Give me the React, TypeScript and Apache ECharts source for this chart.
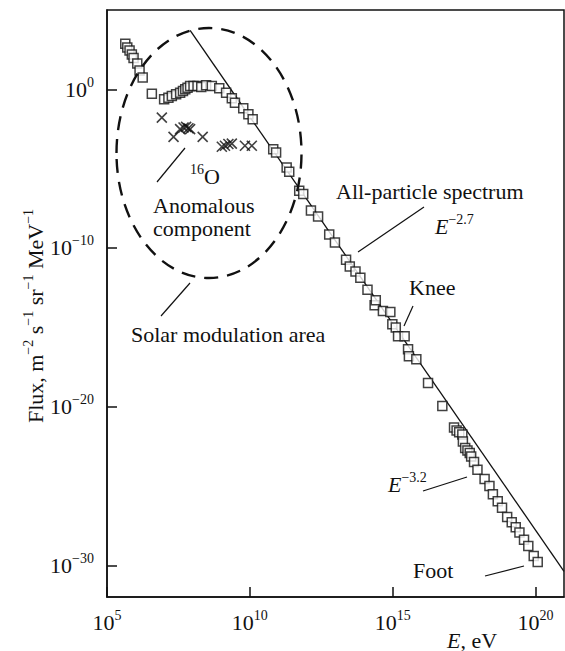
import React, { useEffect, useRef } from "react";
import * as echarts from "echarts";

const SERIF = "Liberation Serif";

// Measured flux (squares): log10(E / eV) and log10(flux / m^-2 s^-1 sr^-1 MeV^-1)
const spectrumLogE = [
  5.64, 5.71, 5.79, 5.87, 5.93, 6.06, 6.14, 6.25, 6.57, 7.0, 7.15, 7.27, 7.42,
  7.56, 7.66, 7.74, 7.82, 7.91, 8.03, 8.17, 8.3, 8.47, 8.67, 8.93, 9.17, 9.37,
  9.48, 9.77, 9.95, 10.1, 10.82, 10.92, 11.29, 11.38, 11.73, 11.87, 12.14,
  12.39, 12.78, 12.98, 13.37, 13.5, 13.7, 13.87, 14.12, 14.37, 14.41, 14.66,
  14.92, 14.99, 15.11, 15.19, 15.42, 15.54, 15.57, 15.83, 16.24, 16.74, 17.15,
  17.24, 17.33, 17.44, 17.46, 17.54, 17.62, 17.7, 17.75, 17.85, 17.97, 18.22,
  18.39, 18.51, 18.68, 18.83, 19.01, 19.17, 19.31, 19.44, 19.6, 19.75, 19.94,
  20.08,
];
const spectrumLogFlux = [
  2.88, 2.63, 2.44, 2.2, 1.97, 1.62, 1.18, 0.74, -0.28, -0.63, -0.53, -0.42,
  -0.31, -0.21, -0.11, 0.0, 0.1, 0.21, 0.21, 0.21, 0.14, 0.25, 0.21, 0.06,
  -0.21, -0.57, -0.84, -1.19, -1.57, -1.88, -3.77, -3.98, -4.92, -5.19, -6.39,
  -6.6, -7.64, -8.02, -9.15, -9.65, -10.74, -11.16, -11.48, -11.88, -12.63,
  -13.61, -13.3, -13.97, -14.03, -14.81, -15.01, -15.56, -15.56, -16.39,
  -16.82, -17.02, -18.51, -19.96, -21.31, -21.5, -21.62, -21.76, -22.2, -22.61,
  -22.76, -22.93, -23.14, -23.49, -23.98, -24.56, -25.0, -25.52, -25.97,
  -26.38, -26.95, -27.29, -27.61, -27.93, -28.39, -28.79, -29.42, -29.8,
];

// Anomalous 16O component (crosses)
const oxygenLogE = [
  6.92, 7.33, 7.56, 7.68, 7.77, 7.85, 7.91, 8.35, 9.02, 9.13, 9.25, 9.37, 9.83,
  10.07,
];
const oxygenLogFlux = [
  -1.78, -3.0, -2.51, -2.41, -2.37, -2.45, -2.51, -3.0, -3.62, -3.56, -3.45,
  -3.42, -3.56, -3.56,
];

// E^-2.7 power-law guide line
const powerLawLogE = [7.91, 21];
const powerLawLogFlux = [3.71, -30.38];

const xTicks = [5, 10, 15, 20];
const yTicks = [0, -10, -20, -30];

const MINUS = "\u2212";
const expText = (v: number) => (v < 0 ? MINUS + Math.abs(v) : String(v));

const makeRich = (lineHeight: number) => ({
  m: { fontFamily: SERIF, fontSize: 22, lineHeight, color: "#111" },
  i: {
    fontFamily: SERIF,
    fontSize: 22,
    lineHeight,
    fontStyle: "italic",
    color: "#111",
  },
  s: {
    fontFamily: SERIF,
    fontSize: 14,
    lineHeight: 14,
    verticalAlign: "top",
    color: "#111",
  },
});
const richBase = makeRich(28);

const label = (
  text: string,
  x: number,
  y: number,
  align = "left",
  rotation = 0,
  rich: any = richBase
) => ({
  type: "text",
  x,
  y,
  rotation,
  silent: true,
  z: 20,
  style: {
    text,
    rich,
    align,
    verticalAlign: "middle",
    fill: "#111",
    fontFamily: SERIF,
    fontSize: 22,
  },
});

const leader = (x1: number, y1: number, x2: number, y2: number) => ({
  type: "line",
  silent: true,
  z: 20,
  shape: { x1, y1, x2, y2 },
  style: { stroke: "#111", lineWidth: 1.2 },
});

export default function App() {
  const ref = useRef<HTMLDivElement>(null);

  useEffect(() => {
    if (!ref.current) return;
    const chart = echarts.init(ref.current, null, { renderer: "svg" });

    const squares = spectrumLogE.map((e, i) => [e, spectrumLogFlux[i]]);
    const crosses = oxygenLogE.map((e, i) => [e, oxygenLogFlux[i]]);
    const guide = powerLawLogE.map((e, i) => [e, powerLawLogFlux[i]]);

    chart.setOption({
      animation: false,
      backgroundColor: "#fff",
      textStyle: { fontFamily: SERIF },
      grid: {
        left: 107,
        right: 1,
        top: 10,
        bottom: 54,
        show: true,
        borderColor: "#111",
        borderWidth: 1.5,
        outerBoundsMode: "none",
      },
      xAxis: {
        type: "value",
        min: 5,
        max: 21,
        interval: 5,
        splitLine: { show: false },
        axisLine: {
          show: true,
          onZero: false,
          lineStyle: { color: "#111", width: 1.5 },
        },
        axisTick: {
          show: true,
          inside: true,
          length: 10,
          customValues: xTicks,
          lineStyle: { color: "#111", width: 1.5 },
        },
        axisLabel: {
          margin: 11,
          customValues: xTicks,
          fontFamily: SERIF,
          formatter: (v: number) => `{m|10}{s|${expText(v)}}`,
          rich: richBase,
        },
      },
      yAxis: {
        type: "value",
        min: -32,
        max: 5,
        splitLine: { show: false },
        axisLine: {
          show: true,
          onZero: false,
          lineStyle: { color: "#111", width: 1.5 },
        },
        axisTick: {
          show: true,
          inside: true,
          length: 10,
          customValues: yTicks,
          lineStyle: { color: "#111", width: 1.5 },
        },
        axisLabel: {
          margin: 13,
          customValues: yTicks,
          fontFamily: SERIF,
          formatter: (v: number) => `{m|10}{s|${expText(v)}}`,
          rich: richBase,
        },
      },
      series: [
        {
          name: "E^-2.7",
          type: "line",
          data: guide,
          symbol: "none",
          lineStyle: { color: "#111", width: 1.3 },
          z: 2,
        },
        {
          name: "16O",
          type: "scatter",
          data: crosses,
          symbol: "path://M0,0L10,10M10,0L0,10",
          symbolSize: 10,
          itemStyle: { color: "transparent", borderColor: "#111", borderWidth: 1.6 },
          z: 3,
        },
        {
          name: "All particles",
          type: "scatter",
          data: squares,
          symbol: "rect",
          symbolSize: 9,
          itemStyle: { color: "#fff", borderColor: "#111", borderWidth: 1.5 },
          z: 4,
        },
      ],
      graphic: [
        {
          type: "ellipse",
          silent: true,
          z: 10,
          shape: { cx: 209, cy: 153, rx: 92.5, ry: 125 },
          style: { fill: "none", stroke: "#111", lineWidth: 2.4, lineDash: [14, 9] },
        },
        label("{s|16}{m|O}", 190, 176),
        leader(185, 148, 157, 182),
        label("{m|Anomalous}", 153, 205),
        label("{m|component}", 153, 228),
        label("{m|Solar modulation area}", 131, 334),
        leader(190, 283, 161, 316),
        label("{m|All-particle spectrum}", 336, 191),
        label(`{i|E}{s|${MINUS}2.7}`, 435, 226),
        leader(424, 207, 358, 252),
        label("{m|Knee}", 409, 287),
        leader(413, 306, 404, 326),
        label(`{i|E}{s|${MINUS}3.2}`, 388, 484),
        leader(423, 491, 467, 477),
        label("{m|Foot}", 413, 570),
        leader(485, 576, 524, 566),
        label("{i|E}{m|, eV}", 447, 640, "left", 0, makeRich(18)),
        label(
          `{m|Flux, m}{s|${MINUS}2}{m| s}{s|${MINUS}1}{m| sr}{s|${MINUS}1}{m| MeV}{s|${MINUS}1}`,
          35,
          316,
          "center",
          Math.PI / 2
        ),
      ],
    });

    return () => chart.dispose();
  }, []);

  return (
    <div
      ref={ref}
      style={{
        position: "fixed",
        left: 0,
        top: 0,
        width: 565,
        height: 651,
        background: "#fff",
      }}
    />
  );
}
